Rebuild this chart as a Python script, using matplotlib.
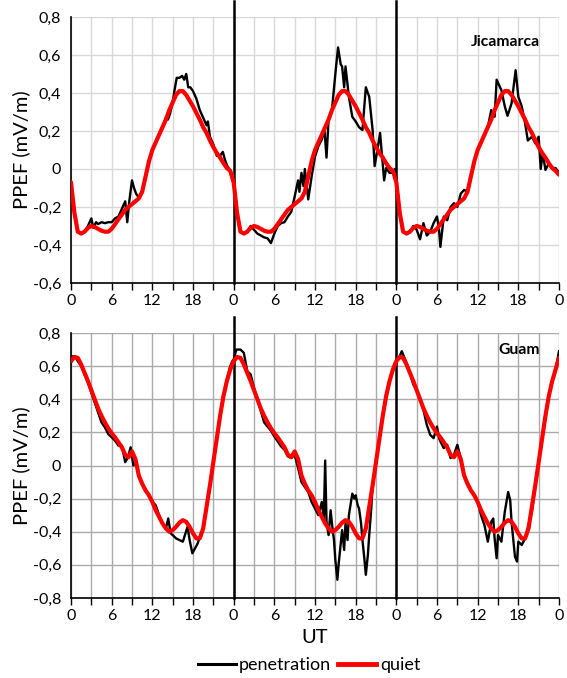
"""
PPEF at Jicamarca and Guam: penetration vs quiet-time pattern over three days.
Two stacked panels, UT hours 0-72 with day boundaries marked.
"""

import numpy as np
import matplotlib
matplotlib.use("Agg")
import matplotlib.pyplot as plt
from matplotlib.lines import Line2D
from matplotlib.ticker import FuncFormatter, MultipleLocator

plt.rcParams["font.family"] = ["Lato", "DejaVu Sans"]

# ── Data ──────────────────────────────────────────────────────────────────
# quiet-time daily curve, every 0.5 h from 0 to 23.5 UT (repeats each day)
QUIET_HOURS = np.arange(0, 24, 0.5)
QUIET_JIC = [-0.07, -0.23, -0.33, -0.34, -0.33, -0.31, -0.30, -0.305,
             -0.315, -0.325, -0.33, -0.33, -0.315, -0.29, -0.265, -0.24,
             -0.215, -0.20, -0.185, -0.17, -0.155, -0.12, -0.04, 0.04,
             0.10, 0.14, 0.18, 0.22, 0.26, 0.31, 0.35, 0.39,
             0.41, 0.41, 0.39, 0.36, 0.33, 0.295, 0.26, 0.22,
             0.19, 0.15, 0.115, 0.085, 0.06, 0.03, 0.005, -0.01]
QUIET_GUAM = [0.63, 0.655, 0.65, 0.61, 0.56, 0.51, 0.455, 0.40,
              0.345, 0.30, 0.26, 0.225, 0.195, 0.17, 0.14, 0.11,
              0.065, 0.05, 0.085, 0.04, -0.06, -0.11, -0.15, -0.18,
              -0.22, -0.27, -0.31, -0.35, -0.38, -0.40, -0.39, -0.37,
              -0.345, -0.33, -0.34, -0.37, -0.41, -0.44, -0.44, -0.38,
              -0.25, -0.12, 0.02, 0.16, 0.30, 0.42, 0.51, 0.58]
QUIET_END = {"jic": -0.03, "guam": 0.65}   # value at 72 UT

# penetration curves (UT hour, value)
PEN_JIC_HOURS = [
    0, 0.5, 1, 1.5, 2, 2.5, 3, 3.3, 3.7, 4, 4.5, 5, 5.5, 6, 6.5, 7, 7.5, 8,
    8.3, 8.6, 9, 9.3, 9.6, 10, 10.5, 11, 11.5, 12, 12.5, 13, 13.5, 14, 14.3,
    14.6, 15, 15.3, 15.6, 16, 16.4, 16.7, 17, 17.3, 17.6, 18, 18.5, 19, 19.5,
    20, 20.2, 20.5, 21, 21.5, 22, 22.4, 22.7, 23, 23.5, 23.8,
    24, 24.5, 25, 25.5, 26, 26.5, 27, 27.5, 28, 28.5, 29, 29.5, 30, 30.5, 31,
    31.5, 32, 32.5, 33, 33.5, 33.7, 34, 34.3, 34.5, 35, 35.5, 36, 36.5, 37,
    37.4, 37.7, 38, 38.5, 39, 39.4, 39.8, 40, 40.3, 40.5, 41, 41.5, 42, 42.5,
    43, 43.5, 44, 44.5, 44.8, 45.2, 45.6, 46.2, 46.5, 47, 47.5, 47.8,
    48, 48.5, 49, 49.5, 50, 50.5, 51, 51.5, 52, 52.5, 53, 53.5, 54, 54.3, 54.5,
    55, 55.5, 56, 56.5, 57, 57.5, 58, 58.5, 59, 59.5, 60, 60.5, 61, 61.5, 62,
    62.5, 62.8, 63.5, 64, 64.4, 65, 65.6, 66, 66.5, 67, 67.4, 68, 68.5, 69,
    69.3, 69.6, 70, 70.5, 71, 71.5, 72,
]
PEN_JIC = [
    -0.07, -0.23, -0.33, -0.34, -0.33, -0.30, -0.26, -0.31, -0.28, -0.29,
    -0.28, -0.285, -0.28, -0.28, -0.26, -0.25, -0.21, -0.17, -0.28, -0.17,
    -0.06, -0.10, -0.13, -0.15, -0.12, -0.04, 0.04, 0.10, 0.14, 0.18, 0.22,
    0.27, 0.26, 0.29, 0.35, 0.42, 0.48, 0.48, 0.49, 0.47, 0.50, 0.43, 0.43,
    0.41, 0.37, 0.31, 0.27, 0.23, 0.25, 0.17, 0.13, 0.07, 0.07, 0.09, 0.05,
    0.02, -0.01, -0.06,
    -0.05, -0.23, -0.33, -0.34, -0.33, -0.30, -0.32, -0.34, -0.35, -0.36,
    -0.365, -0.39, -0.34, -0.30, -0.285, -0.28, -0.25, -0.225, -0.145, -0.06,
    -0.12, -0.02, -0.09, 0.0, -0.16, -0.04, 0.065, 0.12, 0.155, 0.205, 0.06,
    0.26, 0.31, 0.50, 0.64, 0.55, 0.54, 0.43, 0.54, 0.38, 0.275, 0.25, 0.22,
    0.205, 0.43, 0.38, 0.205, 0.015, 0.10, 0.19, -0.06, 0.005, -0.02, -0.02,
    0.0,
    -0.05, -0.23, -0.33, -0.34, -0.33, -0.30, -0.32, -0.37, -0.285, -0.35,
    -0.33, -0.285, -0.25, -0.32, -0.41, -0.25, -0.27, -0.20, -0.18, -0.20,
    -0.13, -0.11, -0.12, -0.04, 0.04, 0.10, 0.14, 0.18, 0.22, 0.31, 0.275,
    0.47, 0.415, 0.33, 0.28, 0.345, 0.52, 0.38, 0.33, 0.24, 0.15, 0.17, 0.135,
    0.17, 0.0, 0.085, -0.005, 0.03, 0.005, 0.005, -0.02,
]

PEN_GUAM_HOURS = [
    0, 0.3, 0.6, 1, 1.5, 2, 2.5, 3, 3.5, 4, 4.5, 5, 5.5, 6, 6.5, 7, 7.5, 8,
    8.4, 8.8, 9.2, 9.6, 10, 10.5, 11, 11.5, 12, 12.5, 13, 13.5, 14, 14.35,
    14.7, 15, 15.5, 16, 16.5, 17.2, 17.5, 17.9, 18.3, 18.7, 19, 19.5, 20, 20.5,
    21, 21.5, 22, 22.5, 23, 23.5, 23.8,
    24, 24.4, 25, 25.5, 26, 26.5, 27, 27.5, 28, 28.5, 29, 29.5, 30, 30.5, 31,
    31.5, 32, 32.5, 33, 33.5, 34, 34.5, 35, 35.5, 36, 36.5, 37, 37.3, 37.5,
    37.7, 38, 38.3, 38.5, 38.8, 39, 39.3, 39.5, 39.8, 40, 40.3, 40.5, 40.8,
    41, 41.3, 41.5, 41.8, 42, 42.3, 42.5, 42.8, 43, 43.3, 43.5, 43.8, 44,
    44.3, 44.5, 45, 45.5, 46, 46.5, 47, 47.5, 47.8,
    48, 48.5, 48.8, 49, 49.5, 50, 50.5, 51, 51.5, 52, 52.5, 53, 53.5, 54,
    54.3, 54.5, 55, 55.5, 56, 56.5, 57, 57.5, 58, 58.5, 59, 59.5, 60, 60.5,
    61, 61.5, 62, 62.3, 62.5, 62.8, 63, 63.5, 64, 64.5, 64.8, 65, 65.5, 65.8,
    66, 66.5, 67, 67.5, 68, 68.5, 69, 69.5, 70, 70.5, 71, 71.5, 72,
]
PEN_GUAM = [
    0.62, 0.66, 0.66, 0.63, 0.60, 0.55, 0.50, 0.44, 0.38, 0.32, 0.26, 0.23,
    0.19, 0.17, 0.15, 0.12, 0.12, 0.02, 0.05, 0.11, 0.0, 0.02, -0.07, -0.11,
    -0.15, -0.18, -0.22, -0.24, -0.30, -0.35, -0.38, -0.32, -0.41, -0.42,
    -0.44, -0.45, -0.46, -0.37, -0.45, -0.53, -0.50, -0.47, -0.43, -0.38,
    -0.25, -0.12, 0.02, 0.16, 0.30, 0.42, 0.52, 0.60, 0.63,
    0.64, 0.70, 0.70, 0.68, 0.57, 0.55, 0.47, 0.40, 0.33, 0.26, 0.235, 0.21,
    0.175, 0.145, 0.115, 0.095, 0.055, 0.045, 0.065, -0.015, -0.10, -0.13,
    -0.16, -0.22, -0.26, -0.30, -0.22, -0.32, 0.03, -0.34, -0.42, -0.27,
    -0.35, -0.45, -0.57, -0.69, -0.59, -0.47, -0.39, -0.51, -0.35, -0.45,
    -0.30, -0.22, -0.17, -0.20, -0.18, -0.24, -0.26, -0.35, -0.45, -0.57,
    -0.66, -0.54, -0.42, -0.26, -0.12, 0.02, 0.16, 0.30, 0.42, 0.51, 0.58,
    0.62,
    0.63, 0.66, 0.69, 0.67, 0.62, 0.56, 0.49, 0.45, 0.41, 0.335, 0.245, 0.185,
    0.165, 0.235, 0.165, 0.145, 0.105, 0.125, 0.045, 0.065, 0.125, 0.045,
    -0.06, -0.11, -0.15, -0.18, -0.22, -0.30, -0.36, -0.46, -0.34, -0.32,
    -0.44, -0.56, -0.42, -0.46, -0.28, -0.16, -0.21, -0.34, -0.55, -0.58,
    -0.46, -0.48, -0.44, -0.36, -0.28, -0.12, 0.02, 0.16, 0.30, 0.42, 0.51,
    0.58, 0.69,
]

DAY_BOUNDARIES = [24, 48]
N_DAYS = 3

# ── Style ─────────────────────────────────────────────────────────────────
PEN_COLOR = "black"
QUIET_COLOR = "#ff0000"
TICK_FONTSIZE = 11.5
LABEL_FONTSIZE = 14.5
STATION_FONTSIZE = 11.3
LEGEND_FONTSIZE = 13


def quiet_series(daily, end_value):
    """Repeat the daily quiet pattern over N_DAYS and close at 72 UT."""
    hours = np.concatenate([QUIET_HOURS + 24 * d for d in range(N_DAYS)] + [[24 * N_DAYS]])
    vals = np.concatenate([daily] * N_DAYS + [[end_value]])
    return hours, vals


def comma_fmt(v, _pos):
    if abs(v) < 1e-9:
        return "0"
    return f"{v:.1f}".replace(".", ",")


def style_panel(ax, ylim, grid_color):
    ax.set_xlim(0, 72)
    ax.set_ylim(*ylim)
    ax.xaxis.set_major_locator(MultipleLocator(6))
    ax.xaxis.set_minor_locator(MultipleLocator(3))
    ax.xaxis.set_major_formatter(FuncFormatter(lambda h, _p: f"{int(round(h)) % 24}"))
    ax.yaxis.set_major_locator(MultipleLocator(0.2))
    ax.yaxis.set_major_formatter(FuncFormatter(comma_fmt))

    ax.grid(True, which="both", axis="x", color=grid_color, lw=1.0, zorder=0)
    ax.grid(True, which="major", axis="y", color=grid_color, lw=1.0, zorder=0)
    ax.set_axisbelow(True)

    ax.tick_params(axis="x", which="both", direction="out", length=5,
                   width=1.0, labelsize=TICK_FONTSIZE, pad=3)
    ax.tick_params(axis="y", length=0, labelsize=TICK_FONTSIZE, pad=7)
    for side in ("top", "right"):
        ax.spines[side].set_visible(False)
    for side in ("left", "bottom"):
        ax.spines[side].set_color("black")
        ax.spines[side].set_linewidth(1.2)

    ax.set_ylabel("PPEF (mV/m)", fontsize=LABEL_FONTSIZE)
    ax.yaxis.set_label_coords(-0.083, 0.5)

    for b in DAY_BOUNDARIES:
        ax.axvline(b, ymin=0, ymax=1.06, color="black", lw=1.8, clip_on=False, zorder=4)


fig = plt.figure(figsize=(5.67, 6.78), dpi=100)
ax_top = fig.add_axes([71 / 567, 1 - 283 / 678, 488 / 567, 266 / 678])
ax_bot = fig.add_axes([71 / 567, 1 - 598 / 678, 488 / 567, 265 / 678])

panels = [
    (ax_top, PEN_JIC_HOURS, PEN_JIC, QUIET_JIC, QUIET_END["jic"], (-0.6, 0.8),
     "#d9d9d9", "Jicamarca", 0.906),
    (ax_bot, PEN_GUAM_HOURS, PEN_GUAM, QUIET_GUAM, QUIET_END["guam"], (-0.8, 0.8),
     "#ababab", "Guam", 0.936),
]

for ax, ph, pv, qdaily, qend, ylim, gcol, station, ty in panels:
    style_panel(ax, ylim, gcol)
    ax.plot(ph, pv, color=PEN_COLOR, lw=1.7, zorder=3)
    qh, qv = quiet_series(qdaily, qend)
    ax.plot(qh, qv, color=QUIET_COLOR, lw=3.0, zorder=5,
            solid_joinstyle="round", solid_capstyle="round")
    ax.text(0.961, ty, station, transform=ax.transAxes, ha="right", va="center",
            fontsize=STATION_FONTSIZE, fontweight="bold", zorder=6)

ax_bot.set_xlabel("UT", fontsize=LABEL_FONTSIZE, labelpad=4)

handles = [Line2D([], [], color=PEN_COLOR, lw=2.2),
           Line2D([], [], color=QUIET_COLOR, lw=3.5)]
fig.legend(handles, ["penetration", "quiet"], loc="center",
           bbox_to_anchor=(309 / 567, 1 - 665 / 678), ncol=2, frameon=False,
           fontsize=LEGEND_FONTSIZE, handlelength=2.1, handletextpad=0.2,
           columnspacing=0.4)

fig.savefig("out.png", dpi=100)
